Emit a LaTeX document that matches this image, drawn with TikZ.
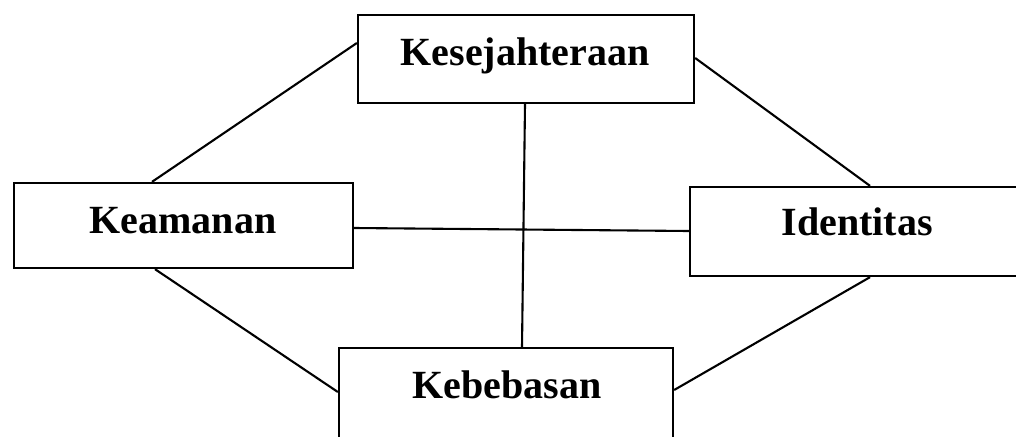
\documentclass[tikz,border=0pt]{standalone}
\usepackage{fontspec}
\setmainfont{Liberation Serif}
\begin{document}
\begin{tikzpicture}[x=1pt,y=-1pt,
  box/.style={draw,line width=2.3pt,inner sep=0pt,rectangle},
  lbl/.style={font=\fontsize{40}{44}\selectfont\bfseries,anchor=base,inner sep=0pt},
  link/.style={line width=2.1pt}]
\useasboundingbox (0,0) rectangle (1016,436);
\clip (0,0) rectangle (1016,436);
\node[box,minimum width=336pt,minimum height=88pt] (kes) at (526,59) {};
\node[box,minimum width=339pt,minimum height=85pt] (kea) at (183.5,225.5) {};
\node[box,minimum width=340pt,minimum height=89pt] (ide) at (860,231.5) {};
\node[box,minimum width=334pt,minimum height=96pt] (keb) at (506,396) {};
\node[lbl] (tkes) at (525,65) {Kesejahteraan};
\node[lbl] (tkea) at (183,233) {Keamanan};
\node[lbl] (tide) at (857,235) {Identitas};
\node[lbl] (tkeb) at (507,398) {Kebebasan};
\coordinate (kesW) at (kes.west |- 0,43);
\coordinate (kesE) at (kes.east |- 0,58);
\coordinate (kesS) at (525,0 |- kes.south);
\coordinate (keaN) at (152,0 |- kea.north);
\coordinate (keaE) at (kea.east |- 0,228);
\coordinate (keaS) at (155,0 |- kea.south);
\coordinate (ideN) at (870,0 |- ide.north);
\coordinate (ideW) at (ide.west |- 0,231);
\coordinate (ideS) at (870,0 |- ide.south);
\coordinate (kebN) at (522,0 |- keb.north);
\coordinate (kebW) at (keb.west |- 0,392);
\coordinate (kebE) at (keb.east |- 0,390);
\draw[link] (kesW) -- (keaN);
\draw[link] (kesE) -- (ideN);
\draw[link] (kesS) -- (kebN);
\draw[link] (keaE) -- (ideW);
\draw[link] (keaS) -- (kebW);
\draw[link] (ideS) -- (kebE);
\end{tikzpicture}
\end{document}
